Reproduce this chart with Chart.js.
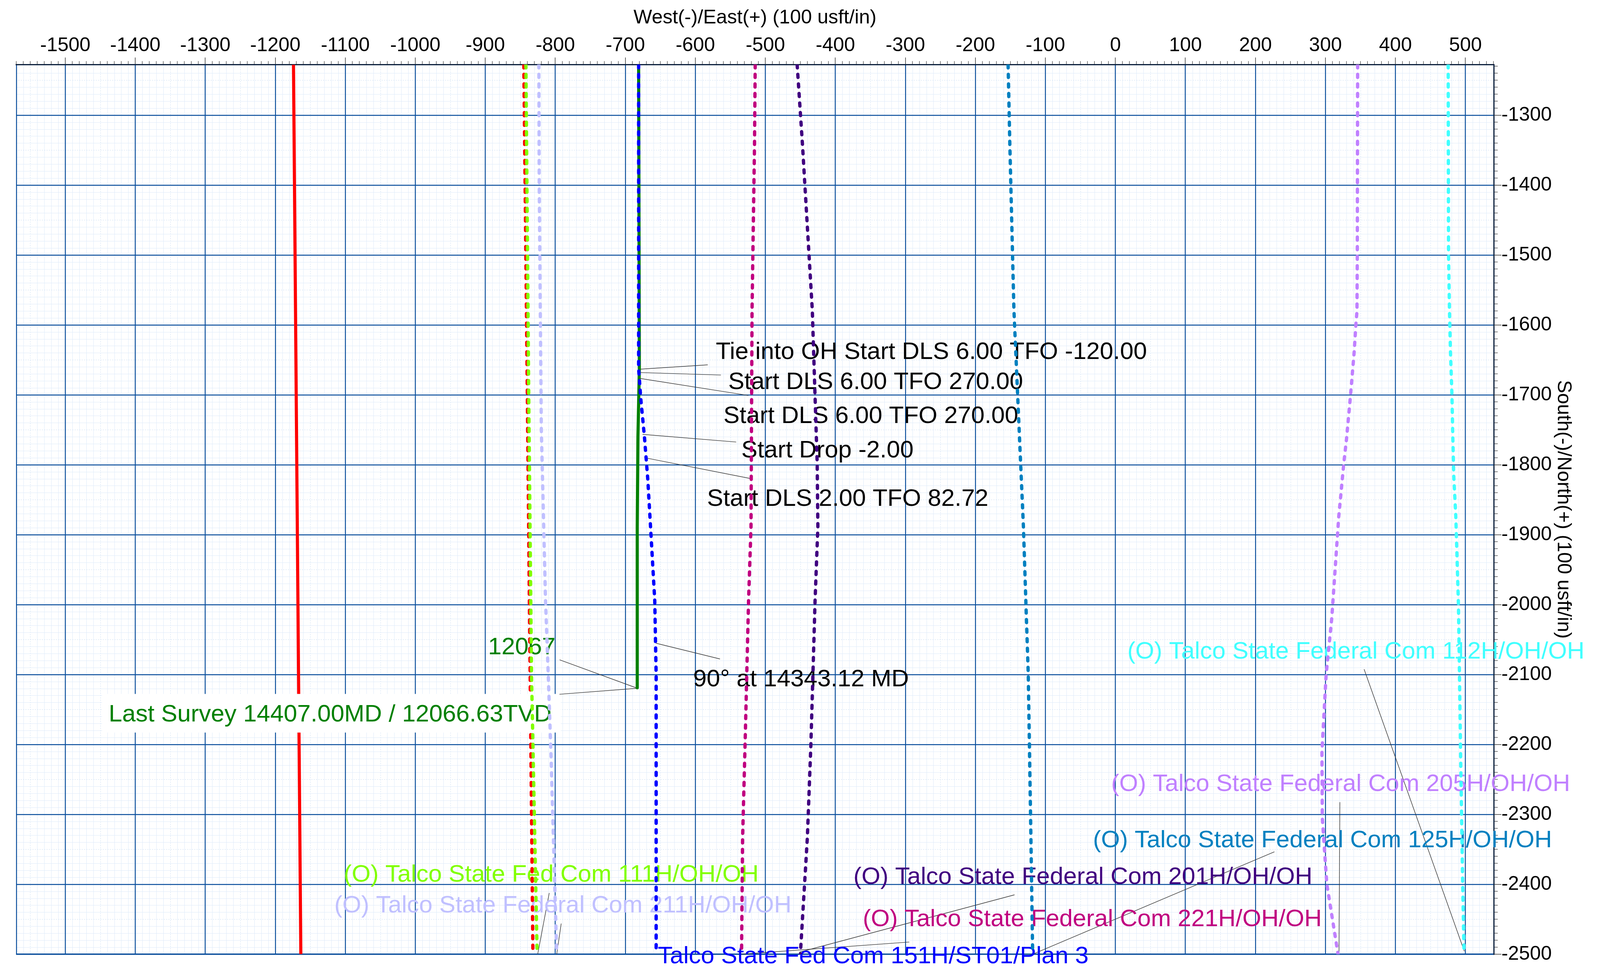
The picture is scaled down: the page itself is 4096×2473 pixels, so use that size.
<!DOCTYPE html>
<html>
<head>
<meta charset="utf-8">
<script src="https://cdn.jsdelivr.net/npm/chart.js@4.4.1/dist/chart.umd.min.js"></script>
<style>
  html, body { margin: 0; padding: 0; background: #fff; }
  #wrap { width: 4096px; height: 2473px; }
</style>
</head>
<body>
<div id="wrap"><canvas id="plan" width="4096" height="2473"></canvas></div>
<script>
// Plan view – West(-)/East(+) vs South(-)/North(+), values in usft

// ── Data ────────────────────────────────────────────────────────────────────
const X_TICKS = [-1500, -1400, -1300, -1200, -1100, -1000, -900, -800, -700, -600,
                 -500, -400, -300, -200, -100, 0, 100, 200, 300, 400, 500];
const Y_TICKS = [-2500, -2400, -2300, -2200, -2100, -2000, -1900, -1800, -1700,
                 -1600, -1500, -1400, -1300];

// [east/west, north/south] pairs
const PLAN_151H   = [[-681, -1228], [-681, -1663], [-678, -1705], [-673, -1757], [-668, -1820],
                     [-664, -1889], [-658, -1994], [-656, -2100], [-656, -2500]];
const SURVEY_151H = [[-681, -1228], [-680, -1663], [-682, -1760], [-683, -1889], [-683, -2119]];
const WELL_221H   = [[-514.5, -1228], [-515.5, -1342], [-519, -1578], [-520.5, -1889], [-524, -1994],
                     [-529, -2201], [-532.5, -2333], [-534, -2500]];
const WELL_201H   = [[-454.6, -1228], [-447, -1342], [-433, -1578], [-426, -1797], [-425, -1889],
                     [-429, -1994], [-435, -2201], [-440, -2333], [-450, -2500]];
const WELL_125H   = [[-153.3, -1228], [-150.8, -1342], [-145, -1578], [-131.4, -1889], [-124.5, -2100],
                     [-120.7, -2333], [-118.2, -2500]];
const WELL_205H   = [[346, -1228], [345.5, -1498], [345, -1581], [343.6, -1598], [341, -1639],
                     [335.8, -1701], [330, -1764], [326.3, -1797], [321.6, -1847], [319, -1874],
                     [309, -2020], [301, -2100], [295, -2210], [295.5, -2305], [302, -2400], [318, -2500]];
const WELL_112H   = [[475.3, -1228], [475.8, -1498], [477.2, -1581], [478.6, -1639], [480.7, -1701],
                     [482, -1764], [483.3, -1816], [486.2, -1874], [490, -2002], [493, -2210],
                     [496, -2400], [498, -2500]];
const WELL_211H   = [[-823.5, -1228], [-823, -1400], [-820, -1750], [-814, -1994], [-810, -2104],
                     [-806, -2220], [-798, -2500]];
const WELL_111H   = [[-842, -1228], [-838, -1700], [-834, -2100], [-826, -2500]];
const RED_DASHED  = [[-845, -1228], [-840, -1700], [-836, -2100], [-832, -2500]];
const RED_SOLID   = [[-1174, -1228], [-1163.5, -2500]];

// annotations: text position + leader line, all in chart units
const PLAN_NOTES = [
  { text: 'Tie into OH Start DLS 6.00 TFO -120.00', at: [-570.8, -1648.8], from: [-680.1, -1663.4], to: [-582.3, -1657.1] },
  { text: 'Start DLS 6.00 TFO 270.00',              at: [-553.1, -1691.5], from: [-680.1, -1668.1], to: [-563.5, -1671.7] },
  { text: 'Start DLS 6.00 TFO 270.00',              at: [-559.9, -1740.4], from: [-680.1, -1676.4], to: [-524.2, -1700.9] },
  { text: 'Start Drop -2.00',                       at: [-534.4, -1789.4], from: [-675.4, -1756.6], to: [-541.7, -1767.5] },
  { text: 'Start DLS 2.00 TFO 82.72',               at: [-583.3, -1858.6], from: [-672.8, -1789.9], to: [-519.3, -1820.1] },
  { text: '90° at 14343.12 MD',                     at: [-603.1, -2116.8], from: [-656.1, -2055.3], to: [-564.8, -2077.8] },
];
const SURVEY_NOTES = [
  { text: '12067', at: [-896, -2070.9], from: [-682.8, -2119.7], to: [-793.9, -2079] },
];
const LAST_SURVEY = { text: 'Last Survey 14407.00MD / 12066.63TVD', at: [-1438, -2167.4], from: [-682.8, -2119.7], to: [-794.1, -2128.3] };
const WELL_LABELS = [
  { text: '(O) Talco State Fed Com 111H/OH/OH',      color: '#80ff00', at: [-1102.3, -2396.4], from: [-825.1, -2499.7], to: [-808.7, -2412.5] },
  { text: '(O) Talco State Federal Com 211H/OH/OH',  color: '#c0c0ff', at: [-1115.7, -2440.4], from: [-798, -2499.9],   to: [-791.6, -2456.2] },
  { text: 'Talco State Fed Com 151H/ST01/Plan 3',    color: '#0000ff', at: [-653.6, -2513.1] },
  { text: '(O) Talco State Federal Com 201H/OH/OH',  color: '#400080', at: [-374.2, -2399.3], from: [-451.6, -2497.2], to: [-144.1, -2415.1] },
  { text: '(O) Talco State Federal Com 221H/OH/OH',  color: '#c00080', at: [-360.8, -2459.7], from: [-534, -2500],     to: [-294.4, -2482.6] },
  { text: '(O) Talco State Federal Com 125H/OH/OH',  color: '#0080c0', at: [-32, -2347.3],    from: [-118.2, -2500],   to: [227.1, -2353.5] },
  { text: '(O) Talco State Federal Com 205H/OH/OH',  color: '#c080ff', at: [-6.1, -2266.8],   from: [319.3, -2497.3],  to: [320.6, -2282.5] },
  { text: '(O) Talco State Federal Com 112H/OH/OH',  color: '#40ffff', at: [17, -2077.4],     from: [498.3, -2495.7],  to: [355.2, -2092.5] },
];

// ── Style ───────────────────────────────────────────────────────────────────
const S = 0.933;
const FAMILY = '"Liberation Sans", Arial, Helvetica, sans-serif';
const MAJOR = '#0a4e9c';
const FRAME = '#0b1f3c';
const DASH = [8, 16.5];

function line(label, pts, color, dashed) {
  return {
    label,
    data: pts.map(([x, y]) => ({ x, y })),
    showLine: true,
    borderColor: color,
    backgroundColor: color,
    borderWidth: dashed ? 8.5 : 8,
    borderDash: dashed ? DASH : [],
    borderCapStyle: dashed ? 'round' : 'butt',
    borderJoinStyle: 'round',
    pointRadius: 0,
    tension: 0,
  };
}

// datasets drawn last-index first: lowest index ends up on top
const datasets = [
  line('Talco State Fed Com 151H/ST01/Plan 3', PLAN_151H, '#0000ff', true),
  line('151H survey', SURVEY_151H, '#008000', false),
  line('221H', WELL_221H, '#c00080', true),
  line('201H', WELL_201H, '#400080', true),
  line('125H', WELL_125H, '#0080c0', true),
  line('205H', WELL_205H, '#c080ff', true),
  line('112H', WELL_112H, '#40ffff', true),
  line('211H', WELL_211H, '#c0c0ff', true),
  line('111H', WELL_111H, '#80ff00', true),
  line('red dashed', RED_DASHED, '#ff0000', true),
  line('red solid', RED_SOLID, '#ff0000', false),
];
const LIME_INDEX = 8;

// ── Helpers ─────────────────────────────────────────────────────────────────
function px(chart, p) {
  return [chart.scales.x.getPixelForValue(p[0]), chart.scales.y.getPixelForValue(p[1])];
}

function leader(ctx, chart, a, b) {
  const [x1, y1] = px(chart, a), [x2, y2] = px(chart, b);
  ctx.beginPath();
  ctx.moveTo(x1, y1);
  ctx.lineTo(x2, y2);
  ctx.stroke();
}

// ── Plugin: paper grid (minor lines + minor ticks) ──────────────────────────
const paperGrid = {
  id: 'paperGrid',
  beforeDraw(chart) {
    const { ctx, chartArea: a, scales: { x, y } } = chart;
    ctx.save();
    ctx.fillStyle = '#fff';
    ctx.fillRect(0, 0, chart.width, chart.height);

    const xs = [], ys = [];
    for (let v = Math.ceil(x.min / 10) * 10; v <= x.max; v += 10) xs.push(v);
    for (let v = Math.ceil(y.min / 10) * 10; v <= y.max; v += 10) ys.push(v);

    ctx.lineWidth = 1;
    xs.forEach(v => {
      if (v % 100 === 0) return;
      const p = Math.round(x.getPixelForValue(v)) + 0.5;
      ctx.strokeStyle = v % 50 === 0 ? '#cddff3' : '#dfebf9';
      ctx.setLineDash(v % 50 === 0 ? [3, 3] : []);
      ctx.beginPath(); ctx.moveTo(p, a.top); ctx.lineTo(p, a.bottom); ctx.stroke();
    });
    ys.forEach(v => {
      if (v % 100 === 0) return;
      const p = Math.round(y.getPixelForValue(v)) + 0.5;
      ctx.strokeStyle = v % 50 === 0 ? '#cddff3' : '#dfebf9';
      ctx.setLineDash(v % 50 === 0 ? [3, 3] : []);
      ctx.beginPath(); ctx.moveTo(a.left, p); ctx.lineTo(a.right, p); ctx.stroke();
    });
    ctx.setLineDash([]);

    // minor tick marks outside the plot
    ctx.strokeStyle = '#444';
    ctx.lineWidth = 1.3;
    xs.forEach(v => {
      if (v % 100 === 0) return;
      const p = x.getPixelForValue(v);
      ctx.beginPath(); ctx.moveTo(p, a.top); ctx.lineTo(p, a.top - 8.7); ctx.stroke();
    });
    ys.forEach(v => {
      if (v % 100 === 0) return;
      const p = y.getPixelForValue(v);
      ctx.beginPath(); ctx.moveTo(a.right, p); ctx.lineTo(a.right + 10, p); ctx.stroke();
    });

    // left frame edge
    ctx.strokeStyle = MAJOR;
    ctx.lineWidth = 2.4;
    ctx.beginPath(); ctx.moveTo(a.left + 1.2, a.top); ctx.lineTo(a.left + 1.2, a.bottom); ctx.stroke();
    ctx.restore();
  },
};

// ── Plugin: annotations ─────────────────────────────────────────────────────
const NOTE_FONT = `${(66.5 * S).toFixed(1)}px ${FAMILY}`;

const notes = {
  id: 'notes',
  beforeDatasetsDraw(chart) {
    const ctx = chart.ctx;
    ctx.save();
    ctx.strokeStyle = '#333';
    ctx.lineWidth = 1.4;
    [...PLAN_NOTES, ...SURVEY_NOTES, ...WELL_LABELS].forEach(n => {
      if (n.from) leader(ctx, chart, n.from, n.to);
    });
    ctx.font = NOTE_FONT;
    ctx.textAlign = 'left';
    ctx.textBaseline = 'alphabetic';
    PLAN_NOTES.forEach(n => {
      ctx.fillStyle = '#000';
      ctx.fillText(n.text, ...px(chart, n.at));
    });
    SURVEY_NOTES.forEach(n => {
      ctx.fillStyle = '#008000';
      ctx.fillText(n.text, ...px(chart, n.at));
    });
    WELL_LABELS.forEach(n => {
      ctx.fillStyle = n.color;
      ctx.fillText(n.text, ...px(chart, n.at));
    });
    ctx.restore();
  },
  // the last-survey tag sits on a white box, over the red wells but under the rest
  beforeDatasetDraw(chart, args) {
    if (args.index !== LIME_INDEX) return;
    const ctx = chart.ctx;
    ctx.save();
    ctx.font = NOTE_FONT;
    const [tx, ty] = px(chart, LAST_SURVEY.at);
    const w = ctx.measureText(LAST_SURVEY.text).width;
    ctx.fillStyle = '#fff';
    ctx.fillRect(tx - 18 * S, ty - 76 * S, w + 43 * S, 106 * S);
    ctx.strokeStyle = '#333';
    ctx.lineWidth = 1.4;
    leader(ctx, chart, LAST_SURVEY.from, LAST_SURVEY.to);
    ctx.fillStyle = '#008000';
    ctx.textBaseline = 'alphabetic';
    ctx.fillText(LAST_SURVEY.text, tx, ty);
    ctx.restore();
  },
};

// ── Chart ───────────────────────────────────────────────────────────────────
const AXIS_FONT = { family: FAMILY, size: 54 * S };

new Chart(document.getElementById('plan').getContext('2d'), {
  type: 'scatter',
  data: { datasets },
  plugins: [paperGrid, notes],
  options: {
    responsive: false,
    devicePixelRatio: 1,
    animation: false,
    events: [],
    layout: { padding: { left: 44 * S, right: 0, top: 0, bottom: 2473 - 2621 * S } },
    plugins: { legend: { display: false }, tooltip: { enabled: false } },
    scales: {
      x: {
        type: 'linear',
        position: 'top',
        min: -1570.3,
        max: 540.6,
        afterBuildTicks: s => { s.ticks = X_TICKS.map(value => ({ value })); },
        afterFit: s => { s.height = 177 * S; },
        ticks: {
          autoSkip: false, maxRotation: 0, padding: 0,
          color: '#000', font: AXIS_FONT,
          callback: v => String(v),
        },
        grid: {
          color: MAJOR, lineWidth: 2.4,
          drawTicks: true, tickLength: 18, tickColor: '#333', tickWidth: 1.5,
        },
        border: { display: true, color: FRAME, width: 3 },
        title: {
          display: true, text: 'West(-)/East(+) (100 usft/in)',
          color: '#000', font: AXIS_FONT, padding: { top: 15.8, bottom: 0 },
        },
      },
      y: {
        type: 'linear',
        position: 'right',
        min: -2500,
        max: -1227.6,
        afterBuildTicks: s => { s.ticks = Y_TICKS.map(value => ({ value })); },
        afterFit: s => { s.width = 4096 - 4099 * S; },
        ticks: {
          autoSkip: false, padding: 0,
          color: '#000', font: AXIS_FONT,
          callback: v => String(v),
        },
        grid: {
          color: MAJOR,
          lineWidth: c => (c.tick && c.tick.value === -2500 ? 3.5 : 2.4),
          drawTicks: true, tickLength: 19.3, tickColor: '#333', tickWidth: 1.5,
        },
        border: { display: true, color: FRAME, width: 3 },
        title: {
          display: true, text: 'South(-)/North(+) (100 usft/in)',
          color: '#000', font: AXIS_FONT, padding: { top: 64.3, bottom: 0 },
        },
      },
    },
  },
});
</script>
</body>
</html>
